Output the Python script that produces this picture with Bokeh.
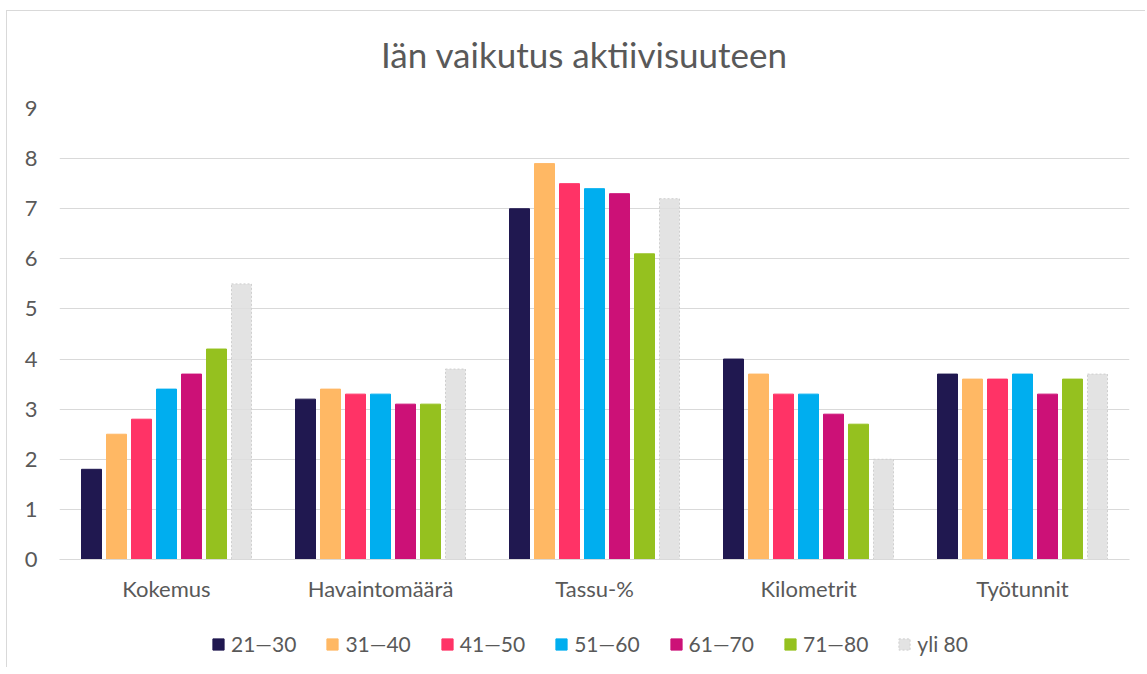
from bokeh.plotting import figure
from bokeh.layouts import column
from bokeh.models import FactorRange, Range1d, FixedTicker, Legend, LegendItem, Label
from bokeh.transform import dodge
from bokeh.embed import file_html
from bokeh.resources import INLINE

categories = ["Kokemus", "Havaintomäärä", "Tassu-%", "Kilometrit", "Työtunnit"]
series_names = ["21—30", "31—40", "41—50", "51—60", "61—70", "71—80", "yli 80"]
s21_30 = [1.8, 3.2, 7.0, 4.0, 3.7]
s31_40 = [2.5, 3.4, 7.9, 3.7, 3.6]
s41_50 = [2.8, 3.3, 7.5, 3.3, 3.6]
s51_60 = [3.4, 3.3, 7.4, 3.3, 3.7]
s61_70 = [3.7, 3.1, 7.3, 2.9, 3.3]
s71_80 = [4.2, 3.1, 6.1, 2.7, 3.6]
yli_80 = [5.5, 3.8, 7.2, 2.0, 3.7]
y_ticks = [0, 1, 2, 3, 4, 5, 6, 7, 8, 9]
title_text = "Iän vaikutus aktiivisuuteen"

series_values = [s21_30, s31_40, s41_50, s51_60, s61_70, s71_80, yli_80]
colors = ["#201850", "#FFB864", "#FF3366", "#00AEEF", "#CC1177", "#95C11F", "#DEDEDE"]

FONT = "Lato"
TXT = "#595959"
W = 1138

# title strip
tf = figure(width=W, height=82, output_backend="svg", toolbar_location=None,
            x_range=Range1d(0, 1), y_range=Range1d(0, 1),
            x_axis_type=None, y_axis_type=None,
            min_border_left=0, min_border_right=0, min_border_top=0, min_border_bottom=0)
tf.outline_line_color = None
tf.xgrid.grid_line_color = None
tf.ygrid.grid_line_color = None
tf.add_layout(Label(x=525, y=40, x_units="screen", y_units="screen", text=title_text,
                    text_align="center", text_baseline="middle", text_font=FONT,
                    text_font_size="35px", text_color=TXT))

# main chart
p = figure(x_range=FactorRange(factors=categories), y_range=Range1d(0, 9),
           width=W, height=518, output_backend="svg", toolbar_location=None,
           min_border_left=52, min_border_right=16, min_border_top=15, min_border_bottom=52)
p.outline_line_color = None
p.xgrid.grid_line_color = None
p.ygrid.grid_line_color = "#D9D9D9"
p.ygrid.grid_line_width = 1

p.yaxis.ticker = FixedTicker(ticks=y_ticks)
p.yaxis.axis_line_color = None
p.yaxis.major_tick_line_color = None
p.yaxis.minor_tick_line_color = None
p.yaxis.major_label_text_font = FONT
p.yaxis.major_label_text_font_size = "22px"
p.yaxis.major_label_text_color = TXT
p.yaxis.major_label_standoff = 16

p.xaxis.axis_line_color = "#D9D9D9"
p.xaxis.major_tick_line_color = None
p.xaxis.minor_tick_line_color = None
p.xaxis.major_label_text_font = FONT
p.xaxis.major_label_text_font_size = "22px"
p.xaxis.major_label_text_color = TXT
p.xaxis.major_label_standoff = 9

# legend-only strip below the chart (its bars lie far outside its visible y range)
lg = figure(x_range=FactorRange(factors=categories), y_range=Range1d(1000, 1001),
            width=W, height=56, output_backend="svg", toolbar_location=None,
            x_axis_type=None, y_axis_type=None,
            min_border_left=0, min_border_right=0, min_border_top=0, min_border_bottom=0)
lg.outline_line_color = None
lg.xgrid.grid_line_color = None
lg.ygrid.grid_line_color = None

bar_w = 20 / 214
step = 25 / 214
items = []
for i, (name, vals, col) in enumerate(zip(series_names, series_values, colors)):
    src = {"cat": categories, "val": vals}
    if name == "yli 80":
        style = dict(fill_color=col, fill_alpha=0.85, line_color="#CFCFCF",
                     line_dash="2 2", line_width=1)
    else:
        style = dict(fill_color=col, line_color=col, line_width=1)
    p.vbar(x=dodge("cat", (i - 3) * step, range=p.x_range), top="val", width=bar_w,
           source=src, **style)
    r = lg.vbar(x="cat", top="val", width=bar_w, source=src, **style)
    items.append(LegendItem(label=name, renderers=[r]))

legend = Legend(items=items, orientation="horizontal", location=(152, 11),
                label_text_font=FONT, label_text_font_size="21px", label_text_color=TXT,
                glyph_width=14, glyph_height=14, label_standoff=6, spacing=29,
                border_line_color=None, background_fill_alpha=0, margin=0, padding=0)
lg.add_layout(legend, "center")

layout = column(tf, p, lg, spacing=0)
layout.styles = {"margin-left": "6px", "margin-top": "10px",
                 "border-left": "1px solid #D9D9D9", "border-top": "1px solid #D9D9D9"}

open("out.html", "w").write(file_html(layout, INLINE))
